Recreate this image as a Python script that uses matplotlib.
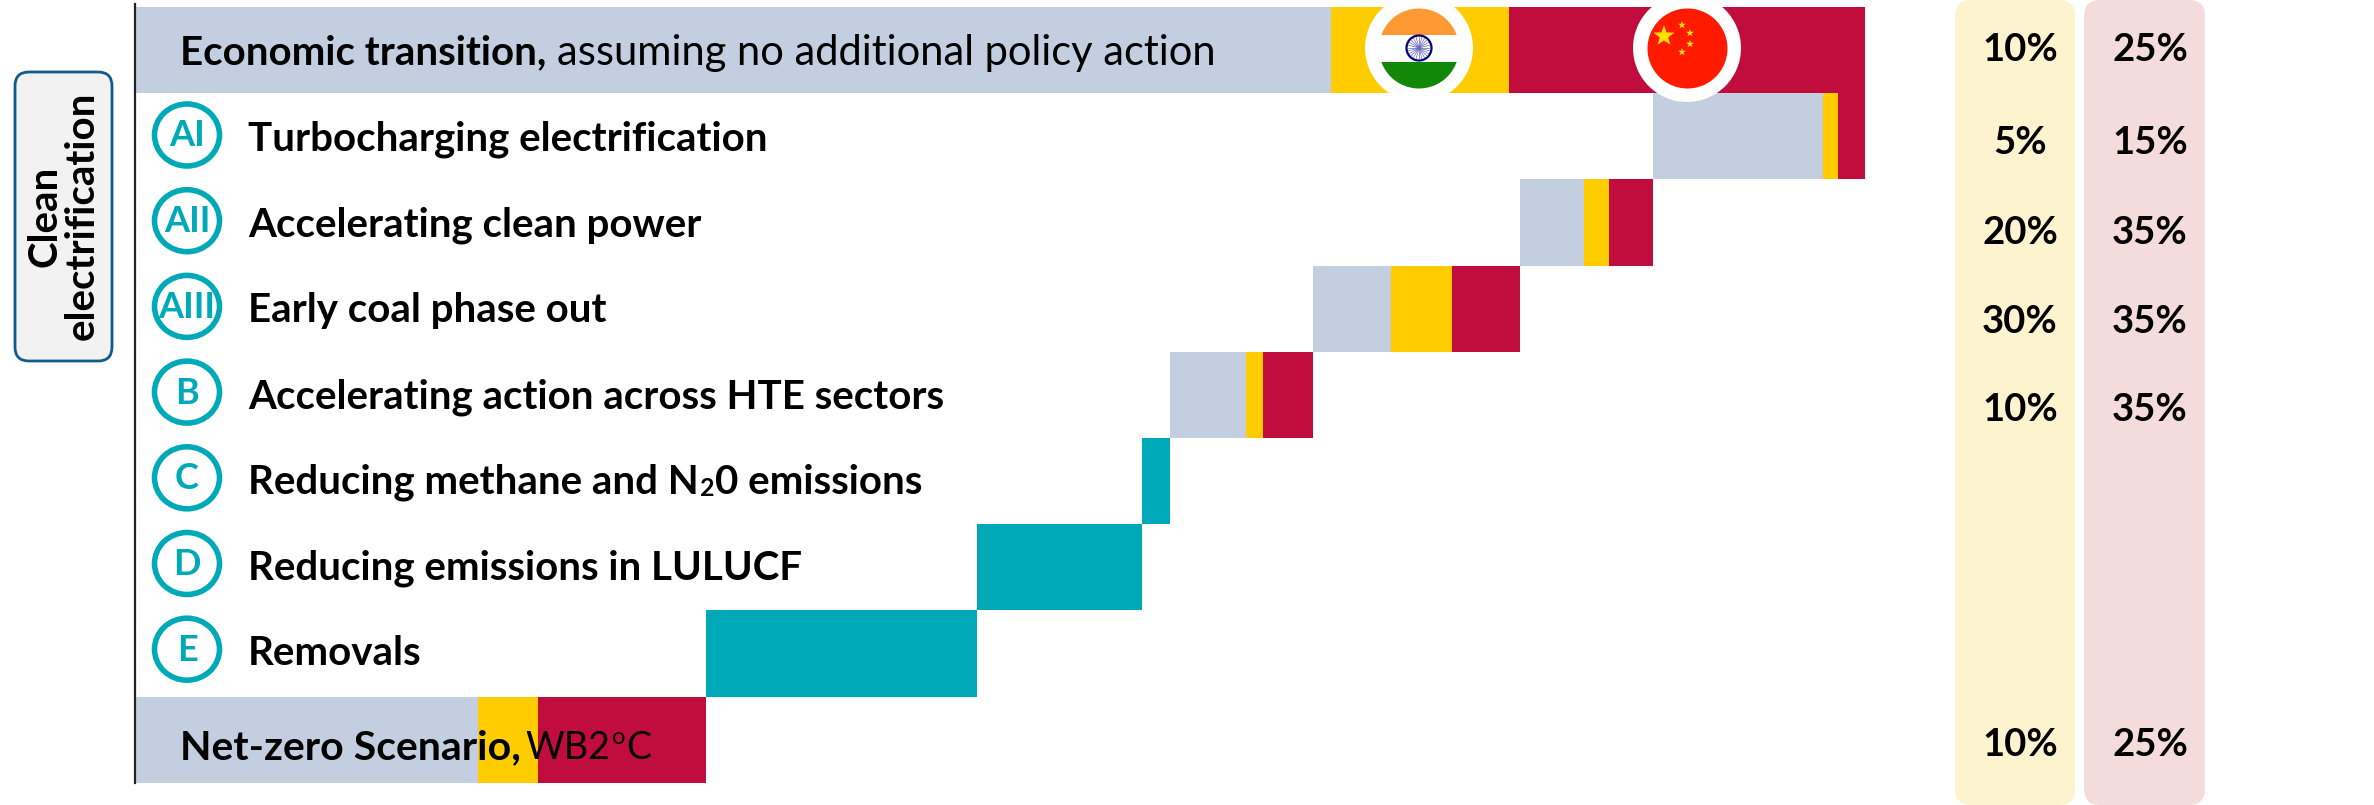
import matplotlib
matplotlib.use('Agg')
import matplotlib.pyplot as plt
from matplotlib.patches import Ellipse, FancyBboxPatch, Rectangle
import numpy as np

plt.rcParams['font.family'] = ['Lato', 'DejaVu Sans']

GREY = '#C3CEE0'
YELLOW = '#FFCC00'
RED = '#C00D3E'
TEAL = '#00A9B7'

# waterfall values, in chart units, top row is the total
grey_vals = [1196, 170, 64, 78, 76, 0, 0, 0, 343]
yellow_vals = [178, 15, 25, 61, 17, 0, 0, 0, 60]
red_vals = [356, 27, 44, 68, 50, 0, 0, 0, 168]
teal_vals = [0, 0, 0, 0, 0, 28, 165, 271, 0]

badges = ['AI', 'AII', 'AIII', 'B', 'C', 'D', 'E']
lever_labels = ['Turbocharging electrification', 'Accelerating clean power', 'Early coal phase out',
                'Accelerating action across HTE sectors', None, 'Reducing emissions in LULUCF', 'Removals']
india_share = ['10%', '5%', '20%', '30%', '10%', None, None, None, '10%']
china_share = ['25%', '15%', '35%', '35%', '35%', None, None, None, '25%']

ROW_H = 86.2
ROW_TOP = 7
X0 = 135
FS = 29


def row_y(i):
    return ROW_TOP + ROW_H * (i + 0.5)


def runs(ax, x, y, parts):
    # lay out bold / regular pieces one after the other
    rend = ax.figure.canvas.get_renderer()
    for txt, size, weight, dy, gap in parts:
        t = ax.text(x, y + dy, txt, fontsize=size, fontweight=weight, va='center_baseline', ha='left', color='black', zorder=6)
        bb = t.get_window_extent(rend)
        x += bb.width + gap


def star(ax, x, y, r):
    ang = np.deg2rad(np.arange(10) * 36 - 90)
    rad = np.where(np.arange(10) % 2 == 0, r, r * 0.4)
    ax.fill(x + rad * np.cos(ang), y + rad * np.sin(ang), color='#FFE000', lw=0, zorder=8)


fig = plt.figure(figsize=(23.74, 8.05), dpi=100)
ax = fig.add_axes([0, 0, 1, 1])
ax.set_xlim(0, 2374)
ax.set_ylim(805, 0)
ax.axis('off')

# share columns
for left, wid, col in [(1955, 120, '#FDF3CE'), (2084, 121, '#F4DCDD')]:
    ax.add_patch(FancyBboxPatch((left + 16, 16), wid - 32, 773, boxstyle='round,pad=16,rounding_size=16', fc=col, ec='none', zorder=1))

# waterfall
grey_vals = np.array(grey_vals)
yellow_vals = np.array(yellow_vals)
red_vals = np.array(red_vals)
teal_vals = np.array(teal_vals)
totals = grey_vals + yellow_vals + red_vals + teal_vals
right = X0 + totals[0]
ys = [row_y(i) for i in range(9)]
lefts = []
for i in range(9):
    if i == 0 or i == 8:
        lefts.append(X0)
    else:
        lefts.append(right - totals[1:i + 1].sum())
lefts = np.array(lefts)
ax.barh(ys, grey_vals, left=lefts, height=ROW_H, color=GREY, zorder=2)
ax.barh(ys, yellow_vals, left=lefts + grey_vals, height=ROW_H, color=YELLOW, zorder=2)
ax.barh(ys, red_vals, left=lefts + grey_vals + yellow_vals, height=ROW_H, color=RED, zorder=2)
ax.barh(ys, teal_vals, left=lefts, height=ROW_H, color=TEAL, zorder=2)

ax.plot([X0, X0], [4, 783], color='#222222', lw=1.6, zorder=5)

# side box
ax.add_patch(FancyBboxPatch((29, 86), 69, 261, boxstyle='round,pad=14,rounding_size=14', fc='#F2F2F2', ec='#0F5C8C', lw=2, zorder=3))
ax.text(64, 216, 'Clean\nelectrification', rotation=90, fontsize=FS, fontweight='bold', ha='center', va='center', ma='center', linespacing=1.0, zorder=6)

# header + footer text
fig.canvas.draw()
runs(ax, 180, 49, [('Economic transition,', FS, 'bold', 0, 11), ('assuming no additional policy action', 30, 'normal', 0, 0)])
runs(ax, 180, 744, [('Net-zero Scenario,', FS + 0.5, 'bold', 0, 5), ('WB2', 27, 'normal', 0, 1), ('o', 17, 'normal', -9, 1), ('C', 27, 'normal', 0, 0)])

# lever rows
for i, b in enumerate(badges):
    cy = 135 + 85.7 * i
    ax.add_patch(Ellipse((187, cy), 65, 62, fc='white', ec=TEAL, lw=4, zorder=4))
    ax.text(187, cy + 1, b, color=TEAL, fontsize=26, fontweight='bold', ha='center', va='center', zorder=6)
    if lever_labels[i] is not None:
        ax.text(248, cy + 1, lever_labels[i], fontsize=FS, fontweight='bold', ha='left', va='center_baseline', zorder=6)
    else:
        runs(ax, 248, cy + 1, [('Reducing methane and N', FS, 'bold', 0, 1), ('2', 18, 'bold', 8, 1), ('0 emissions', FS, 'bold', 0, 0)])

# shares
share_y = [50, 143, 233, 322, 410, 0, 0, 0, 745]
for i in range(9):
    if india_share[i] is not None:
        ax.text(2020, share_y[i], india_share[i], fontsize=27.5, fontweight='bold', ha='center', va='center', zorder=6)
        ax.text(2150, share_y[i], china_share[i], fontsize=27.5, fontweight='bold', ha='center', va='center', zorder=6)

# flags
ax.add_patch(Ellipse((1419, 48), 108, 108, fc='white', ec='none', zorder=7))
ax.add_patch(Ellipse((1687, 48), 108, 108, fc='white', ec='none', zorder=7))

india_disc = Ellipse((1419, 48.5), 80, 80, fc='white', ec='none', zorder=7.5)
ax.add_patch(india_disc)
for top, h, col in [(8, 27, '#FF9933'), (62, 27, '#138808')]:
    r = Rectangle((1379, top), 80, h, fc=col, ec='none', zorder=8)
    ax.add_patch(r)
    r.set_clip_path(india_disc)
ax.add_patch(Ellipse((1419, 48), 25, 25, fc='white', ec='#000080', lw=1.6, zorder=8))
for a in np.deg2rad(np.arange(0, 180, 15)):
    ax.plot([1419 - 11 * np.cos(a), 1419 + 11 * np.cos(a)], [48 - 11 * np.sin(a), 48 + 11 * np.sin(a)], color='#6666BB', lw=0.5, zorder=8)

ax.add_patch(Ellipse((1687.5, 48.5), 80, 80, fc='#FF1A00', ec='none', zorder=7.5))
star(ax, 1664, 36, 11)
for sx, sy in [(1682, 25), (1690, 33), (1690, 44), (1682, 52)]:
    star(ax, sx, sy, 4)

fig.savefig('out.png', dpi=100)
